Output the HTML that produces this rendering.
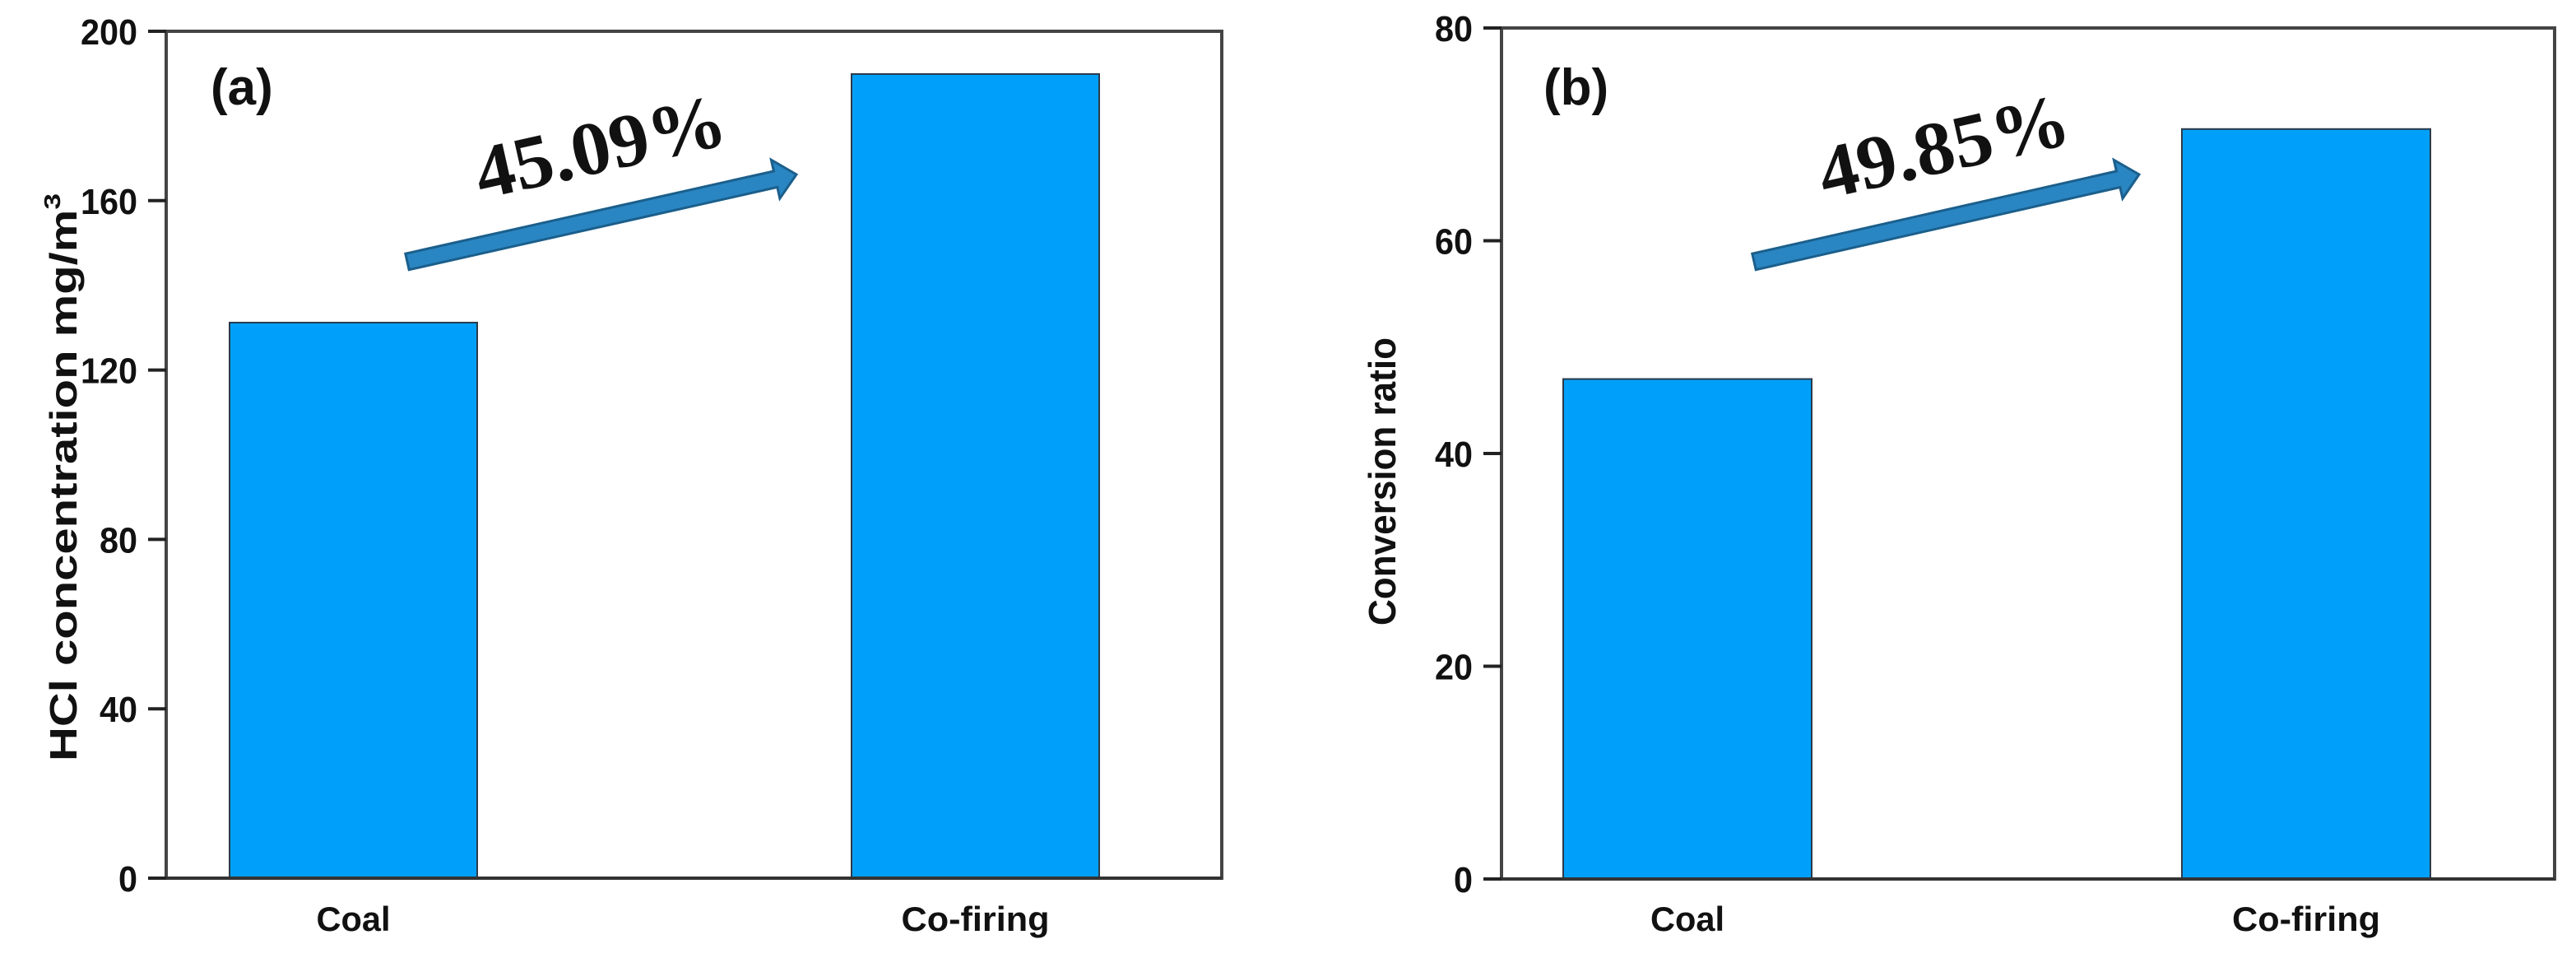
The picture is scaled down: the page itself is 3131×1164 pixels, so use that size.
<!DOCTYPE html>
<html><head><meta charset="utf-8"><style>
html,body{margin:0;padding:0;background:#fff;}
svg{display:block;}
</style></head><body>
<svg id="fig" xmlns="http://www.w3.org/2000/svg" width="3131" height="1164" viewBox="0 0 3131 1164">
</svg>
<script>
// Panel (a) data
const categoriesA = ["Coal", "Co-firing"];
const valuesA = [131.2, 189.9];
const ticksA = [0, 40, 80, 120, 160, 200];
// Panel (b) data
const categoriesB = ["Coal", "Co-firing"];
const valuesB = [47.0, 70.5];
const ticksB = [0, 20, 40, 60, 80];

const NS = "http://www.w3.org/2000/svg";
const svg = document.getElementById("fig");
function mk(tag, attrs, parent, text) {
  const e = document.createElementNS(NS, tag);
  for (const k in attrs) e.setAttribute(k, attrs[k]);
  if (text !== undefined) e.textContent = text;
  (parent || svg).appendChild(e);
  return e;
}

function panel(cfg) {
  const g = mk("g", {});
  
  
  const {left, right, top, bottom, ymax} = cfg;
  const yS = v => bottom - (v / ymax) * (bottom - top);
  const frame = mk("rect", {x: left, y: top, width: right - left, height: bottom - top, fill: "none", stroke: "#444", "stroke-width": 4}, g);
  
  
  cfg.categories.forEach((c, i) => {
    const x0 = cfg.barX[i];
    const y = yS(cfg.values[i]);
    const b = mk("rect", {x: x0, y: y, width: cfg.barW, height: bottom - y, fill: "#00a0fa", stroke: "#2b3a4a", "stroke-width": 2}, g);
    
    
    const t = mk("text", {x: x0 + cfg.barW / 2, y: 1131, "text-anchor": "middle", "font-family": "Liberation Sans, sans-serif", "font-weight": "bold", "font-size": 42, fill: "#111", "textLength": c === "Coal" ? 90 : 180, "lengthAdjust": "spacingAndGlyphs"}, g, c);
    
    
  });
  const ax = mk("line", {x1: left, y1: bottom, x2: right, y2: bottom, stroke: "#333", "stroke-width": 4}, g);
  
  
  cfg.ticks.forEach(v => {
    const y = yS(v);
    const tk = mk("line", {x1: left - 22, y1: y, x2: left, y2: y, stroke: "#222", "stroke-width": 4}, g);
    
    
    const s = String(v);
    const tl = mk("text", {x: left - 35, y: y + 16, "text-anchor": "end", "font-family": "Liberation Sans, sans-serif", "font-weight": "bold", "font-size": 44, fill: "#111", textLength: s.length * 23, lengthAdjust: "spacingAndGlyphs"}, g, s);
    
    
  });
  const yt = mk("text", {x: 0, y: 0, "text-anchor": "middle", "font-family": "Liberation Sans, sans-serif", "font-weight": "bold", "font-size": 46, fill: "#111", transform: `translate(${cfg.ytX},${cfg.ytY}) rotate(-90)`, textLength: cfg.ytLen, lengthAdjust: "spacingAndGlyphs"}, g);
  
  
  if (cfg.sup) {
    mk("tspan", {}, yt, cfg.ytitle);
    mk("tspan", {dy: -20, "font-size": 28}, yt, "3");
  } else {
    yt.textContent = cfg.ytitle;
  }
  const pl = mk("text", {x: cfg.plX, y: 127, "font-family": "Liberation Sans, sans-serif", "font-weight": "bold", "font-size": 62, fill: "#111"}, g, cfg.plabel);
  
  
  const [x1, y1, x2, y2] = cfg.arrow;
  const ang = Math.atan2(y2 - y1, x2 - x1) * 180 / Math.PI;
  const len = Math.hypot(x2 - x1, y2 - y1);
  const ag = mk("g", {transform: `translate(${x1},${y1}) rotate(${ang})`}, g);
  
  
  mk("polygon", {points: `0,-10 ${len - 26},-10 ${len - 26},-24 ${len},0 ${len - 26},24 ${len - 26},10 0,10`, fill: "#2a86c2", stroke: "#1b5f8c", "stroke-width": 3}, ag);
  const pt = mk("text", {x: 0, y: 0, "font-family": "Liberation Serif, serif", "font-weight": "bold", "font-size": 92, fill: "#111", transform: `translate(${cfg.pctX},${cfg.pctY}) rotate(${ang})`, textLength: 310, lengthAdjust: "spacingAndGlyphs"}, g, cfg.pct);
  
  
}

panel({name: "panel-a-hcl", left: 202, right: 1485, top: 38, bottom: 1067, ymax: 200,
  categories: categoriesA, values: valuesA, ticks: ticksA, barX: [279, 1035], barW: 301,
  ytitle: "HCl concentration mg/m", sup: true, ytX: 93, ytY: 580, ytLen: 690,
  plabel: "(a)", plX: 256, arrow: [495, 318, 968, 212], pct: "45.09%", pctX: 585, pctY: 242});
panel({name: "panel-b-conversion", left: 1825, right: 3105, top: 34, bottom: 1068, ymax: 80,
  categories: categoriesB, values: valuesB, ticks: ticksB, barX: [1900, 2652], barW: 302,
  ytitle: "Conversion ratio", sup: false, ytX: 1696, ytY: 585, ytLen: 350,
  plabel: "(b)", plX: 1876, arrow: [2132, 318, 2600, 212], pct: "49.85%", pctX: 2218, pctY: 242});
</script>
</body></html>
